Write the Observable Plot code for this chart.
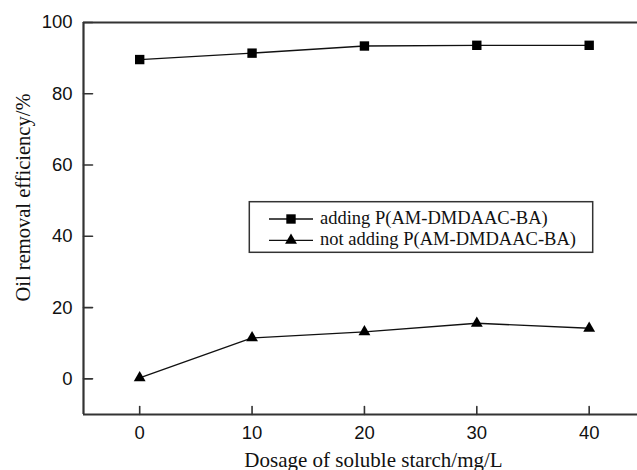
<!DOCTYPE html>
<html><head><meta charset="utf-8">
<script src="https://cdn.jsdelivr.net/npm/d3@7"></script>
<script src="https://cdn.jsdelivr.net/npm/@observablehq/plot@0.6"></script>
<style>
body{margin:0;background:#fff;}
#wrap{position:relative;width:637px;height:470px;overflow:hidden;background:#fff;}
#legend{position:absolute;left:248px;top:200px;}
#wrap svg g[aria-label="x-axis tick label"], #wrap svg g[aria-label="y-axis tick label"]{font-size:18.5px;font-family:'Liberation Sans', Arial, sans-serif;}
</style></head><body><div id="wrap"></div>
<script>
const dosage = [0, 10, 20, 30, 40];
const withP = [89.6, 91.4, 93.4, 93.6, 93.6];
const withoutP = [0.3, 11.5, 13.2, 15.6, 14.2];
const seriesNames = ["adding P(AM-DMDAAC-BA)", "not adding P(AM-DMDAAC-BA)"];
const seriesSymbols = ["square", "triangle"];
const xTicks = [0, 10, 20, 30, 40];
const yTicks = [0, 20, 40, 60, 80, 100];
const xLabel = "Dosage of soluble starch/mg/L";
const yLabel = "Oil removal efficiency/%";

const rows = [];
[withP, withoutP].forEach((vals, s) => vals.forEach((v, i) => rows.push({series: seriesNames[s], symbol: seriesSymbols[s], x: dosage[i], y: v})));

const ink = "#111";
const tickShape = {draw(context, l) { context.moveTo(0, 0); context.lineTo(0, -l); }};
const serif = "'Liberation Serif', 'Times New Roman', serif";
const sans = "'Liberation Sans', Arial, sans-serif";

const chart = Plot.plot({
  width: 637, height: 470,
  marginLeft: 83, marginRight: 0, marginTop: 22, marginBottom: 56,
  style: {background: "#fff", color: ink, overflow: "visible", fontSize: "18.5px", fontFamily: sans},
  x: {domain: [-5, 44.3]},
  y: {domain: [-10, 100]},
  marks: [
    Plot.ruleY([-10, 100], {stroke: "#333", strokeWidth: 2.2}),
    Plot.ruleX([-5], {stroke: "#333", strokeWidth: 2.2}),
    Plot.vector(yTicks, {y: d => d, frameAnchor: "left", rotate: 90, length: 9, anchor: "start", shape: tickShape, stroke: "#333", strokeWidth: 1.6}),
    Plot.vector(xTicks, {x: d => d, frameAnchor: "bottom", rotate: 0, length: 8, anchor: "start", shape: tickShape, stroke: "#333", strokeWidth: 1.6}),
    Plot.axisX(xTicks, {tickSize: 0, tickPadding: 11, fontSize: 18.5, fontFamily: sans, label: null}),
    Plot.axisY(yTicks, {tickSize: 0, tickPadding: 11, fontSize: 18.5, fontFamily: sans, label: null}),
    Plot.line(rows, {x: "x", y: "y", z: "series", stroke: ink, strokeWidth: 1.3}),
    Plot.dot(rows.filter(d => d.symbol === "square"), {x: "x", y: "y", symbol: "square", r: 5.3, fill: "#000", stroke: "none"}),
    Plot.dot(rows.filter(d => d.symbol === "triangle"), {x: "x", y: "y", symbol: "triangle", r: 4.4, fill: "#000", stroke: "none"}),
    Plot.text([xLabel], {text: d => d, frameAnchor: "bottom", lineAnchor: "bottom", textAnchor: "middle", dx: 13, dy: 52, fontSize: 21, fontFamily: serif, fill: ink}),
    Plot.text([yLabel], {text: d => d, frameAnchor: "left", rotate: -90, lineAnchor: "bottom", textAnchor: "middle", dx: -54, dy: -21, fontSize: 20.5, fontFamily: serif, fill: ink})
  ]
});
const wrap = document.getElementById("wrap");
wrap.appendChild(chart);

// Legend
const lw = 346, lh = 54;
const leg = d3.select(wrap).append("svg").attr("id", "legend").attr("width", lw).attr("height", lh);
leg.append("rect").attr("x", 1.3).attr("y", 1.7).attr("width", 343.4).attr("height", 50.6)
  .attr("fill", "#fff").attr("stroke", "#333").attr("stroke-width", 1.5);
const symMap = {square: [d3.symbolSquare, Math.PI * 5.3 * 5.3], triangle: [d3.symbolTriangle, Math.PI * 4.4 * 4.4]};
seriesNames.forEach((name, i) => {
  const cy = 19 + i * 21.3;
  const g = leg.append("g");
  g.append("line").attr("x1", 21).attr("x2", 65).attr("y1", cy).attr("y2", cy).attr("stroke", ink).attr("stroke-width", 1.3);
  const [type, size] = symMap[seriesSymbols[i]];
  g.append("path").attr("d", d3.symbol(type, size)()).attr("transform", `translate(43,${cy})`).attr("fill", "#000");
  g.append("text").attr("x", 72).attr("y", cy + 4.5).attr("font-family", serif).attr("font-size", 18.5).attr("fill", ink).text(name);
});
</script>
</body></html>
